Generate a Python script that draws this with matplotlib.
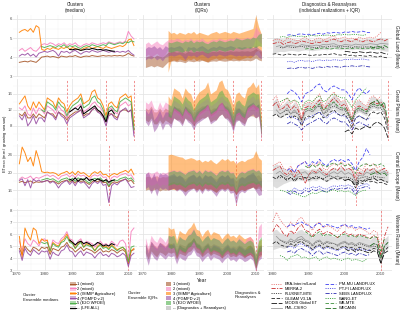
import numpy as np
import matplotlib
matplotlib.use("Agg")
import matplotlib.pyplot as plt
from matplotlib.patches import Patch
from matplotlib.lines import Line2D

plt.rcParams['font.family'] = ['Liberation Sans', 'DejaVu Sans']
plt.rcParams['lines.scale_dashes'] = False

# ---------------- categories / labels ----------------
cluster_labels = ['1 (mixed)', '2 (mixed)', '3 (ISIMIP Agriculture)', '4 (PGMFD v.2)', '5 (E2O WFDEI)']
cluster_colors = ['#A65628', '#F781BF', '#FF7F00', '#984EA3', '#4DAF4A']
region_names = ['Global Land (Mean)', 'Great Plains (Mean)', 'Central Europe (Mean)', 'Western Russia (Mean)']
drought_years = [[], [1988, 2002, 2012], [2003], [2010]]
med_start = [1971, 1971, 1971, 1971, 1979]
iqr_start = [1971, 1971, 1979, 1971, 1979]
lfe_start = 1989
band_start = 1980
product_names = ['ERA-Interim/Land', 'MERRA-2', 'FLUXNET-MTE', 'GLEAM V3.1A', 'MODIS Global ET', 'PML-CSIRO',
                 'PM-MU LANDFLUX', 'PT-FI LANDFLUX', 'SEBS LANDFLUX', 'WANG-ET', 'WB-MTE', 'WECANN']
product_start = [1980, 1980, 1982, 1980, 2000, 1981, 1984, 1984, 1984, 1982, 1989, 2007]

# ---------------- Global Land: medians ----------------
gl_c1 = [3.72,3.75,3.78,3.74,3.80,3.76,3.72,3.85, 4.00,4.02,4.05,4.00,4.03,4.00,3.95,4.05,4.02,4.00,
         4.05,4.03,4.08,4.02,3.98,4.03,4.05,4.03,4.08,4.05, 4.03,4.05,4.08,4.05,4.07,4.05,4.08,4.06,4.08,4.05,
         4.10,4.20,4.10,4.05]
gl_c2 = [4.35,4.45,4.30,4.40,4.50,4.35,4.30,4.45, 4.65,4.70,4.65,4.75,4.70,4.60,4.70,4.65,4.75,4.60,
         4.70,4.65,4.75,4.60,4.55,4.65,4.70,4.65,4.75,4.70, 4.65,4.70,4.75,4.70,4.80,4.75,4.70,4.75,4.80,4.75,
         4.85,5.35,5.10,4.95]
gl_c3 = [5.30,5.40,5.45,5.35,5.50,5.30,5.65,5.55, 4.40,4.35,4.45,4.40,4.50,4.45,4.40,4.50,4.45,4.55,
         4.40,4.50,4.45,4.40,4.35,4.45,4.50,4.55,4.45,4.50, 4.55,4.50,4.45,4.55,4.50,4.45,4.50,4.55,4.60,4.55,
         4.65,4.90,4.95,4.60]
gl_c4 = [4.05,4.15,4.10,4.20,4.05,4.15,4.00,4.20, 4.25,4.30,4.25,4.30,4.35,4.25,4.05,4.30,4.25,4.30,
         4.20,4.30,4.35,4.25,4.15,4.25,4.30,4.25,4.35,4.30, 4.25,4.30,4.35,4.30,4.25,4.30,4.25,4.30,4.25,4.30,
         4.25,4.35,4.20,4.10]
gl_c5 = [4.55,4.50,4.55,4.60,4.55,4.50,4.60,4.55,4.65,4.50, 4.60,4.55,4.60,4.50,4.45,4.55,4.60,4.55,4.65,4.60,
         4.55,4.60,4.65,4.60,4.75,4.70,4.65,4.70,4.75,4.70, 4.80,4.75,4.85,4.80]
gl_lfe = [4.40,4.38,4.42,4.40,4.35,4.38,4.42,4.40,4.45,4.42,4.38,4.40,4.36,4.38,4.35,4.32,4.30]

# ---------------- Great Plains: medians ----------------
gp_c1 = [11.0,10.5,11.5,10.0,10.0,11.0,10.0,11.0, 10.5,10.0,11.5,11.0,11.0,10.0,11.5,11.0,10.5,9.5,
         10.5,11.0,11.5,11.5,12.0,10.5,11.0,11.0,12.0,12.5, 11.5,11.5,10.5,9.0,11.0,11.0,10.5,10.0,11.5,12.0,
         12.0,11.5,12.0,7.0]
gp_c2 = [12.5,12.0,13.0,11.0,10.5,12.5,11.0,12.5, 12.0,11.0,13.0,12.5,12.0,11.0,13.0,12.0,11.5,10.0,
         11.5,12.0,12.5,13.0,13.5,11.5,12.0,12.5,13.5,14.0, 13.0,12.5,11.5,9.0,12.0,12.5,11.5,11.0,13.0,13.5,
         14.0,13.0,13.5,6.5]
gp_c3 = [13.5,14.5,15.5,13.0,12.0,14.0,12.5,14.0, 13.0,12.0,15.0,14.5,14.0,12.5,15.0,14.0,13.5,11.5,
         13.0,14.0,14.5,15.0,16.0,13.5,14.0,14.5,16.5,17.0, 15.0,14.5,13.0,10.5,13.5,14.0,13.0,12.5,15.0,15.5,
         16.0,15.0,15.5,8.0]
gp_c4 = [10.5,9.5,11.0,8.0,9.0,10.5,8.5,10.0, 10.0,9.0,11.5,11.0,10.5,9.5,11.5,10.5,10.0,8.5,
         10.0,10.5,11.0,11.5,12.0,10.0,10.5,11.0,12.0,12.5, 11.5,11.0,10.0,8.0,10.5,11.0,10.0,9.5,11.5,12.0,
         12.5,11.5,12.0,5.5]
gp_c5 = [12.0,11.5,14.0,13.5,13.0,12.0,14.0,13.0,12.5,10.5, 12.0,13.0,13.5,14.0,15.0,12.5,13.0,13.5,15.0,15.5,
         14.0,13.5,12.0,9.5,12.5,13.0,12.0,11.5,14.0,14.5, 15.0,14.5,14.0,7.0]
gp_lfe = [11.5,12.0,12.5,12.0,13.0,11.0,11.5,12.0,12.5,13.0,12.0,11.5,10.5,9.0,11.5,12.0,11.0]

# ---------------- Central Europe: medians ----------------
ce_c1 = [17.8,18.0,17.7,17.9,18.1,17.6,17.9,17.8, 17.9,18.0,18.2,17.9,18.1,17.8,17.4,17.9,18.1,18.3,
         17.8,18.2,17.6,18.3,18.0,18.1,17.7,17.3,17.9,18.2, 17.9,18.3,17.7,17.8,16.8,17.6,17.9,17.7,18.1,18.3,
         18.5,18.0,18.3,17.5]
ce_c2 = [18.5,19.0,18.6,18.8,19.2,18.4,18.9,18.7, 19.0,19.3,19.5,19.1,19.4,19.0,18.5,19.2,19.4,19.6,
         19.0,19.5,18.8,19.6,19.2,19.4,18.9,18.4,19.2,19.5, 19.2,19.6,18.9,19.0,17.5,18.8,19.2,18.9,19.4,19.6,
         19.8,19.3,19.5,18.5]
ce_c3 = [22.0,25.8,24.5,22.5,23.5,21.5,25.0,23.0, 20.2,20.0,20.1,19.9,20.0,19.8,19.3,19.8,20.0,20.3,
         19.7,20.2,19.5,20.3,19.8,20.0,19.5,19.0,19.8,20.2, 19.8,20.3,19.5,19.6,19.0,19.5,19.8,19.5,20.0,20.2,
         20.5,20.0,20.8,19.5]
ce_c4 = [18.2,18.6,17.0,18.4,16.5,18.5,18.0,18.3, 17.8,18.0,18.3,17.6,18.0,17.5,16.5,17.4,17.9,18.2,
         17.3,18.0,17.0,18.1,17.6,17.9,17.2,16.4,17.5,18.0, 17.5,18.1,17.1,17.3,13.2,17.0,17.6,17.2,17.9,18.2,
         18.6,17.6,16.6,16.8]
ce_c5 = [18.3,18.5,18.7,18.4,18.6,18.2,17.8,18.4,18.6,18.8, 18.2,18.7,18.0,18.8,18.4,18.6,18.1,17.6,18.4,18.7,
         18.4,18.8,18.1,18.2,17.0,18.0,18.4,18.1,18.6,18.8, 19.0,18.5,18.8,18.0]
ce_lfe = [18.5,18.2,18.8,18.0,18.6,18.3,18.9,18.2,18.5,18.1,18.6,18.3,18.0,18.4,17.8,18.2,18.3]

# ---------------- Western Russia: medians ----------------
wr_c1 = [4.8,4.3,5.0,4.7,4.5,4.9,4.8,4.6, 4.9,4.8,4.9,4.3,4.8,4.7,4.6,4.9,5.0,5.3,
         4.9,4.8,4.5,4.7,4.9,4.6,4.8,4.7,4.6,4.4, 4.6,4.8,4.5,4.6,4.5,4.7,4.6,4.4,4.6,4.7, 4.5,3.5,4.6,4.7]
wr_c2 = [5.4,4.6,5.6,5.2,5.0,5.5,5.3,5.0, 5.5,5.6,5.4,4.7,5.5,5.3,5.2,5.6,5.8,6.2,
         5.6,5.5,5.0,5.4,5.6,5.1,5.4,5.3,5.2,4.9, 5.2,5.4,5.1,5.2,5.0,5.4,5.2,5.0,5.4,5.5, 5.2,3.8,6.2,6.5]
wr_c3 = [5.8,4.0,6.5,5.9,5.5,6.5,6.3,5.2, 5.6,5.4,5.5,4.5,5.3,5.1,5.0,5.4,5.6,6.0,
         5.4,5.3,4.8,5.2,5.4,4.9,5.2,5.1,5.0,4.6, 5.0,5.2,4.9,5.0,4.8,5.1,4.9,4.7,4.8,4.9, 4.6,3.6,4.6,4.8]
wr_c4 = [4.6,3.8,4.8,4.4,4.2,4.7,4.5,4.3, 4.6,4.5,4.6,3.9,4.5,4.3,4.2,4.6,4.7,5.1,
         4.6,4.5,4.1,4.4,4.6,4.2,4.5,4.4,4.3,4.0, 4.3,4.5,4.2,4.3,4.1,4.4,4.3,4.1,4.2,4.4, 4.2,3.3,4.2,4.4]
wr_c5 = [5.3,5.2,5.3,4.6,5.2,5.0,4.9,5.3,5.4,5.8, 5.3,5.2,4.8,5.1,5.3,4.9,5.1,5.0,4.9,4.6,
         4.9,5.1,4.8,4.9,4.7,5.0,4.8,4.6,4.8,4.9, 4.7,3.7,4.9,5.0]
wr_lfe = [5.5,5.3,5.1,5.3,5.4,5.2,5.3,5.2,5.0,5.1,5.3,5.2,5.0,5.1,5.0,5.2,5.1]

# ---------------- IQRs: Global Land ----------------
gl_c1_lo = [3.45,3.5,3.55,3.48,3.55,3.5,3.45,3.6, 3.75,3.78,3.8,3.75,3.78,3.75,3.7,3.8,3.78,3.75,
            3.8,3.78,3.83,3.78,3.73,3.78,3.8,3.78,3.83,3.8, 3.78,3.8,3.83,3.8,3.82,3.8,3.83,3.81,3.83,3.8,
            3.85,3.95,3.85,3.8]
gl_c1_hi = [4.0,4.05,4.08,4.0,4.1,4.05,4.0,4.12, 4.25,4.27,4.3,4.25,4.28,4.25,4.2,4.3,4.27,4.25,
            4.3,4.28,4.33,4.27,4.23,4.28,4.3,4.28,4.33,4.3, 4.28,4.3,4.33,4.3,4.32,4.3,4.33,4.31,4.33,4.3,
            4.35,4.45,4.35,4.3]
gl_c2_lo = [4.05,4.15,4.0,4.1,4.2,4.05,4.0,4.15, 4.4,4.45,4.4,4.5,4.45,4.35,4.45,4.4,4.5,4.35,
            4.45,4.4,4.5,4.35,4.3,4.4,4.45,4.4,4.5,4.45, 4.4,4.45,4.5,4.45,4.55,4.5,4.45,4.5,4.55,4.5,
            4.6,5.0,4.85,4.7]
gl_c2_hi = [4.7,4.8,4.65,4.75,4.85,4.7,4.65,4.8, 4.9,4.95,4.9,5.0,4.95,4.85,4.95,4.9,5.0,4.85,
            4.95,4.9,5.0,4.85,4.8,4.9,4.95,4.9,5.0,4.95, 4.9,4.95,5.0,4.95,5.05,5.0,4.95,5.0,5.05,5.0,
            5.1,5.6,5.35,5.2]
gl_c3_lo = [3.2,3.8,3.85,3.8,3.9,3.85,3.8,3.9,3.85,3.95, 3.8,3.9,3.85,3.8,3.75,3.85,3.9,3.95,3.85,3.9,
            3.95,3.9,3.85,3.95,3.9,3.85,3.9,3.95,4.0,3.95, 4.05,4.3,4.35,4.0]
gl_c3_hi = [5.4,5.25,5.3,5.2,5.3,5.25,5.2,5.3,5.25,5.35, 5.2,5.3,5.25,5.2,5.15,5.25,5.3,5.35,5.25,5.3,
            5.35,5.3,5.25,5.35,5.3,5.25,5.3,5.35,5.4,5.45, 5.5,6.2,5.6,5.2]
gl_c4_lo = [3.85,3.95,3.9,4.0,3.85,3.95,3.8,4.0, 4.05,4.1,4.05,4.1,4.15,4.05,3.85,4.1,4.05,4.1,
            4.0,4.1,4.15,4.05,3.95,4.05,4.1,4.05,4.15,4.1, 4.05,4.1,4.15,4.1,4.05,4.1,4.05,4.1,4.05,4.1,
            4.05,4.15,4.0,3.9]
gl_c4_hi = [4.45,4.55,4.5,4.6,4.45,4.55,4.4,4.6, 4.5,4.55,4.5,4.55,4.6,4.5,4.3,4.55,4.5,4.55,
            4.45,4.55,4.6,4.5,4.4,4.5,4.55,4.5,4.6,4.55, 4.5,4.55,4.6,4.55,4.5,4.55,4.5,4.55,4.5,4.55,
            4.5,4.6,4.45,4.35]
gl_c5_lo = [4.3,4.25,4.3,4.35,4.3,4.25,4.35,4.3,4.4,4.25, 4.35,4.3,4.35,4.25,4.2,4.3,4.35,4.3,4.4,4.35,
            4.3,4.35,4.4,4.35,4.5,4.45,4.4,4.45,4.5,4.45, 4.55,4.5,4.6,4.55]
gl_c5_hi = [4.8,4.75,4.8,4.85,4.8,4.75,4.85,4.8,4.9,4.75, 4.85,4.8,4.85,4.75,4.7,4.8,4.85,4.8,4.9,4.85,
            4.8,4.85,4.9,4.85,5.0,4.95,4.9,4.95,5.0,4.95, 5.05,5.0,5.2,5.25]

# ---------------- IQRs: Great Plains ----------------
gp_c1_lo = [9.5,9.0,10.0,8.5,8.5,9.5,8.5,9.5, 9.0,8.5,10.0,9.5,9.5,8.5,10.0,9.5,9.0,8.0,
            9.0,9.5,10.0,10.0,10.5,9.0,9.5,9.5,10.5,11.0, 10.0,10.0,9.0,7.5,9.5,9.5,9.0,8.5,10.0,10.5,
            10.5,10.0,10.5,6.0]
gp_c1_hi = [12.5,12.0,13.0,11.5,11.5,12.5,11.5,12.5, 12.0,11.5,13.0,12.5,12.5,11.5,13.0,12.5,12.0,11.0,
            12.0,12.5,13.0,13.0,13.5,12.0,12.5,12.5,13.5,14.0, 13.0,13.0,12.0,10.5,12.5,12.5,12.0,11.5,13.0,13.5,
            13.5,13.0,13.5,8.0]
gp_c2_lo = [11.0,10.5,11.5,9.5,9.0,11.0,9.5,11.0, 10.5,9.5,11.5,11.0,10.5,9.5,11.5,10.5,10.0,8.5,
            10.0,10.5,11.0,11.5,12.0,10.0,10.5,11.0,12.0,12.5, 11.5,11.0,10.0,7.5,10.5,11.0,10.0,9.5,11.5,12.0,
            12.5,11.5,12.0,5.0]
gp_c2_hi = [14.0,13.5,14.5,12.5,12.0,14.0,12.5,14.0, 13.5,12.5,14.5,14.0,13.5,12.5,14.5,13.5,13.0,11.5,
            13.0,13.5,14.0,14.5,15.0,13.0,13.5,14.0,15.0,15.5, 14.5,14.0,13.0,10.5,13.5,14.0,13.0,12.5,14.5,15.0,
            15.5,14.5,15.0,8.0]
gp_c3_lo = [10.5,9.5,12.0,11.5,11.0,10.0,12.0,11.0,10.5,8.5, 10.0,11.0,11.5,12.0,13.0,10.5,11.0,11.5,13.0,13.5,
            12.0,11.5,10.0,7.5,10.5,11.0,10.0,9.5,12.0,12.5, 13.0,12.0,12.5,5.5]
gp_c3_hi = [15.5,14.5,17.5,17.0,16.5,15.0,17.5,16.5,16.0,14.0, 15.5,16.5,17.0,17.5,19.0,16.0,16.5,17.0,19.0,19.5,
            17.5,17.0,15.5,13.0,16.0,16.5,15.5,15.0,17.5,18.0, 19.0,17.5,18.5,10.0]
gp_c4_lo = [9.0,8.0,9.5,6.5,7.5,9.0,7.0,8.5, 8.5,7.5,10.0,9.5,9.0,8.0,10.0,9.0,8.5,7.0,
            8.5,9.0,9.5,10.0,10.5,8.5,9.0,9.5,10.5,11.0, 10.0,9.5,8.5,6.5,9.0,9.5,8.5,8.0,10.0,10.5,
            11.0,10.0,10.5,4.5]
gp_c4_hi = [12.0,11.0,12.5,9.5,10.5,12.0,10.0,11.5, 11.5,10.5,13.0,12.5,12.0,11.0,13.0,12.0,11.5,10.0,
            11.5,12.0,12.5,13.0,13.5,11.5,12.0,12.5,13.5,14.0, 13.0,12.5,11.5,9.5,12.0,12.5,11.5,11.0,13.0,13.5,
            14.0,13.0,13.5,7.0]
gp_c5_lo = [10.5,10.0,12.5,12.0,11.5,10.5,12.5,11.5,11.0,9.0, 10.5,11.5,12.0,12.5,13.5,11.0,11.5,12.0,13.5,14.0,
            12.5,12.0,10.5,8.0,11.0,11.5,10.5,10.0,12.5,13.0, 13.5,13.0,12.5,5.5]
gp_c5_hi = [13.5,13.0,15.5,15.0,14.5,13.5,15.5,14.5,14.0,12.0, 13.5,14.5,15.0,15.5,16.5,14.0,14.5,15.0,16.5,17.0,
            15.5,15.0,13.5,11.0,14.0,14.5,13.5,13.0,15.5,16.0, 16.5,16.0,16.0,8.5]

# ---------------- IQRs: Central Europe ----------------
ce_c1_lo = [16.0,16.2,15.9,16.1,16.3,15.8,16.1,16.0, 16.1,16.2,16.4,16.1,16.3,16.0,15.6,16.1,16.3,16.5,
            16.0,16.4,15.8,16.5,16.2,16.3,15.9,15.5,16.1,16.4, 16.1,16.5,15.9,16.0,15.0,15.8,16.1,15.9,16.3,16.5,
            16.7,16.2,16.5,15.7]
ce_c1_hi = [19.0,19.2,18.9,19.1,19.3,18.8,19.1,19.0, 19.1,19.2,19.4,19.1,19.3,19.0,18.6,19.1,19.3,19.5,
            19.0,19.4,18.8,19.5,19.2,19.3,18.9,18.5,19.1,19.4, 19.1,19.5,18.9,19.0,18.0,18.8,19.1,18.9,19.3,19.5,
            19.7,19.2,19.5,18.7]
ce_c2_lo = [17.0,17.5,17.1,17.3,17.7,16.9,17.4,17.2, 17.5,17.8,18.0,17.6,17.9,17.5,17.0,17.7,17.9,18.1,
            17.5,18.0,17.3,18.1,17.7,17.9,17.4,16.9,17.7,18.0, 17.7,18.1,17.4,17.5,15.5,17.3,17.7,17.4,17.9,18.1,
            18.3,17.8,18.0,17.0]
ce_c2_hi = [19.7,20.2,19.8,20.0,20.4,19.6,20.1,19.9, 20.2,20.5,20.7,20.3,20.6,20.2,19.7,20.4,20.6,20.8,
            20.2,20.7,20.0,20.8,20.4,20.6,20.1,19.6,20.4,20.7, 20.4,20.8,20.1,20.2,18.7,20.0,20.4,20.1,20.6,20.8,
            21.0,20.5,20.7,19.7]
ce_c3_lo = [16.0,16.3,16.2,16.0,16.4,16.2,15.8,16.2,16.4,16.6, 16.0,16.4,15.9,16.6,16.2,16.3,15.9,15.5,16.2,16.5,
            16.2,16.6,15.9,16.0,15.0,15.9,16.2,15.9,16.3,16.5, 16.8,16.3,17.0,16.5]
ce_c3_hi = [24.0,24.2,24.0,23.8,23.6,23.5,23.0,23.2,23.4,23.2, 22.8,23.0,22.4,22.8,22.5,23.0,22.4,22.0,22.6,23.2,
            22.8,23.2,22.6,22.8,22.0,22.5,22.8,22.5,23.0,23.2, 23.5,25.0,23.4,22.8]
ce_c4_lo = [16.4,16.8,15.2,16.6,14.7,16.7,16.2,16.5, 16.0,16.2,16.5,15.8,16.2,15.7,14.7,15.6,16.1,16.4,
            15.5,16.2,15.2,16.3,15.8,16.1,15.4,14.6,15.7,16.2, 15.7,16.3,15.3,15.5,12.6,15.2,15.8,15.4,16.1,16.4,
            16.8,15.8,14.8,15.0]
ce_c4_hi = [19.7,20.1,18.5,19.9,18.0,20.0,19.5,19.8, 19.3,19.5,19.8,19.1,19.5,19.0,18.0,18.9,19.4,19.7,
            18.8,19.5,18.5,19.6,19.1,19.4,18.7,17.9,19.0,19.5, 19.0,19.6,18.6,18.8,15.5,18.5,19.1,18.7,19.4,19.7,
            20.1,19.1,18.1,18.3]
ce_c5_lo = [17.1,17.3,17.5,17.2,17.4,17.0,16.6,17.2,17.4,17.6, 17.0,17.5,16.8,17.6,17.2,17.4,16.9,16.4,17.2,17.5,
            17.2,17.6,16.9,17.0,15.5,16.8,17.2,16.9,17.4,17.6, 17.8,17.3,17.6,16.8]
ce_c5_hi = [20.1,20.3,20.5,20.2,20.4,20.0,19.6,20.2,20.4,20.6, 20.0,20.5,19.8,20.6,20.2,20.4,19.9,19.4,20.2,20.5,
            20.2,20.6,19.9,20.0,18.8,19.8,20.2,19.9,20.4,20.6, 20.8,20.3,20.6,19.8]

# ---------------- IQRs: Western Russia ----------------
wr_c1_lo = [4.4,3.9,4.6,4.3,4.1,4.5,4.4,4.2, 4.5,4.4,4.5,3.9,4.4,4.3,4.2,4.5,4.6,4.9,
            4.5,4.4,4.1,4.3,4.5,4.2,4.4,4.3,4.2,4.0, 4.2,4.4,4.1,4.2,4.1,4.3,4.2,4.0,4.2,4.3, 4.1,3.1,4.2,4.3]
wr_c1_hi = [5.2,4.7,5.4,5.1,4.9,5.3,5.2,5.0, 5.3,5.2,5.3,4.7,5.2,5.1,5.0,5.3,5.4,5.7,
            5.3,5.2,4.9,5.1,5.3,5.0,5.2,5.1,5.0,4.8, 5.0,5.2,4.9,5.0,4.9,5.1,5.0,4.8,5.0,5.1, 4.9,3.9,5.0,5.1]
wr_c2_lo = [5.0,4.2,5.2,4.8,4.6,5.1,4.9,4.6, 5.1,5.2,5.0,4.3,5.1,4.9,4.8,5.2,5.4,5.8,
            5.2,5.1,4.6,5.0,5.2,4.7,5.0,4.9,4.8,4.5, 4.8,5.0,4.7,4.8,4.6,5.0,4.8,4.6,5.0,5.1, 4.8,3.4,5.6,5.8]
wr_c2_hi = [5.7,4.9,5.9,5.5,5.3,5.8,5.6,5.3, 5.8,5.9,5.7,5.0,5.8,5.6,5.5,5.9,6.1,6.5,
            5.9,5.8,5.3,5.7,5.9,5.4,5.7,5.6,5.5,5.2, 5.5,5.7,5.4,5.5,5.3,5.7,5.5,5.3,5.7,5.8, 5.5,4.1,6.6,6.9]
wr_c3_lo = [5.0,4.8,4.9,4.0,4.7,4.5,4.4,4.8,5.0,5.4, 4.8,4.7,4.2,4.6,4.8,4.3,4.6,4.5,4.4,4.0,
            4.4,4.6,4.3,4.4,4.2,4.5,4.3,4.1,4.2,4.3, 4.0,3.1,4.0,4.2]
wr_c3_hi = [6.6,6.4,6.5,5.5,6.3,6.1,6.0,6.4,6.6,7.0, 6.4,6.3,5.8,6.2,6.4,5.9,6.2,6.1,6.0,5.6,
            5.9,6.1,5.8,5.9,5.7,6.0,5.8,5.6,5.7,5.8, 5.5,4.2,5.4,5.6]
wr_c4_lo = [4.2,3.4,4.4,4.0,3.8,4.3,4.1,3.9, 4.2,4.1,4.2,3.5,4.1,3.9,3.8,4.2,4.3,4.7,
            4.2,4.1,3.7,4.0,4.2,3.8,4.1,4.0,3.9,3.6, 3.9,4.1,3.8,3.9,3.7,4.0,3.9,3.7,3.8,4.0, 3.8,2.9,3.8,4.0]
wr_c4_hi = [5.2,4.4,5.4,5.0,4.8,5.3,5.1,4.9, 5.2,5.1,5.2,4.5,5.1,4.9,4.8,5.2,5.3,5.7,
            5.2,5.1,4.7,5.0,5.2,4.8,5.1,5.0,4.9,4.6, 4.9,5.1,4.8,4.9,4.7,5.0,4.9,4.7,4.8,5.0, 4.8,3.9,4.8,5.0]
wr_c5_lo = [4.9,4.8,4.9,4.2,4.8,4.6,4.5,4.9,5.0,5.4, 4.9,4.8,4.4,4.7,4.9,4.5,4.7,4.6,4.5,4.2,
            4.5,4.7,4.4,4.5,4.3,4.6,4.4,4.2,4.4,4.5, 4.3,3.3,4.5,4.6]
wr_c5_hi = [5.9,5.8,5.9,5.2,5.8,5.6,5.5,5.9,6.0,6.4, 5.9,5.8,5.4,5.7,5.9,5.5,5.7,5.6,5.5,5.2,
            5.5,5.7,5.4,5.5,5.3,5.6,5.4,5.2,5.4,5.5, 5.3,4.3,5.5,5.8]

# ---------------- Diagnostics & reanalyses: Global Land ----------------
gl_era = [4.85,4.95,4.90,4.80,5.00,4.95,4.90,4.85,4.95,5.05,4.90,4.85,4.95,5.00,4.90,4.95,5.05,5.10,4.95,5.00,
          5.05,4.95,5.00,4.90,5.05,4.95,5.00,5.05,5.00,5.10,5.30]
gl_merra = [4.70,4.75,4.80,4.65,4.75,4.80,4.70,4.75,4.85,4.80,4.75,4.70,4.80,4.75,4.85,4.80,4.90,4.95,4.85,4.80,
            4.90,4.85,4.80,4.95,4.85,4.80,4.90,4.85,4.80,4.90,4.95,4.85,4.95]
gl_mte = [4.50,4.48,4.55,4.52,4.50,4.54,4.56,4.52,4.55,4.50,4.48,4.53,4.55,4.52,4.57,4.58,4.54,4.53,4.56,4.55,
          4.50,4.55,4.53,4.52,4.54,4.52,4.50,4.53,4.51,4.50]
gl_gleam = [4.15,4.18,4.12,4.10,4.16,4.14,4.12,4.10,4.15,4.13,4.10,4.08,4.12,4.10,4.14,4.12,4.15,4.18,4.12,4.10,
            4.14,4.08,4.10,4.05,4.08,4.06,4.04,4.08,4.02,4.00,4.05,3.98,3.95]
gl_modis = [4.30,4.28,4.25,4.22,4.28,4.25,4.22,4.26,4.24,4.20,4.25,4.18,4.15]
gl_pml = [4.55,4.60,4.50,4.62,4.60,4.58,4.55,4.65,4.62,4.60,4.58,4.63,4.60,4.66,4.64,4.68,4.70,4.62,4.60,4.66,
          4.64,4.62,4.68,4.65,4.63,4.66,4.70,4.68,4.65,4.72,4.70,4.68]
gl_pmmu = [5.15,5.18,5.12,5.20,5.22,5.18,5.20,5.15,5.22,5.25,5.20,5.28,5.25,5.30,5.28,5.25,5.32,5.30,5.35,5.30,
           5.32,5.36,5.30,5.28]
gl_ptfi = [3.75,3.78,3.72,3.80,3.82,3.78,3.80,3.76,3.82,3.85,3.80,3.84,3.82,3.86,3.84,3.82,3.88,3.86,3.90,3.86,
           3.88,3.90,3.86,3.84]
gl_sebs = [3.40,3.42,3.38,3.44,3.46,3.42,3.45,3.40,3.46,3.48,3.44,3.50,3.47,3.50,3.48,3.46,3.52,3.50,3.54,3.50,
           3.52,3.55,3.50,3.48]
gl_wang = [5.05,5.08,5.02,5.10,5.12,5.08,5.10,5.06,5.12,5.15,5.10,5.14,5.12,5.16,5.14,5.12,5.18,5.16,5.20,5.16,
           5.18,5.20,5.16,5.14,5.18]
gl_wbmte = [4.42,4.45,4.40,4.46,4.44,4.48,4.46,4.42,4.45,4.48,4.46,4.44,4.47,4.45,4.48,4.46,4.44,4.47,4.45,4.43,
            4.46,4.44,4.42]
gl_wecann = [4.55,4.50,4.58,4.52,4.60,4.50]
gl_band_lo = [4.20,4.25,4.30,4.28,4.32,4.35,4.33,4.30,4.35,4.38,4.36,4.33,4.36,4.38,4.40,4.38,4.42,4.44,4.40,4.38,
              4.42,4.40,4.38,4.42,4.40,4.38,4.40,4.42,4.38,4.40,4.36,4.32,4.30]
gl_band_hi = [5.00,5.02,4.98,4.95,4.98,4.96,4.94,4.92,4.95,4.98,4.94,4.92,4.95,4.96,4.94,4.95,4.98,5.00,4.96,4.95,
              4.98,4.95,4.94,4.96,4.95,4.93,4.96,4.98,4.95,4.97,5.05,4.95,4.98]

# ---------------- Diagnostics & reanalyses: Great Plains ----------------
gp_era = [14.5,15.5,13.0,14.0,15.0,13.5,14.5,13.0,10.0,13.5,14.0,13.5,15.0,16.0,13.0,14.0,15.5,16.5,15.0,14.0,
          14.5,12.5,10.0,14.0,14.5,13.5,13.0,15.0,15.5,14.5,15.5]
gp_merra = [13.0,14.0,12.0,12.5,13.5,12.0,13.0,12.0,9.5,12.5,13.0,12.5,13.5,14.5,12.0,13.0,14.0,15.0,14.0,13.0,
            13.5,11.5,9.0,12.5,13.0,12.5,12.0,13.5,14.0,13.5,14.0,12.5,7.5]
gp_mte = [11.0,11.5,12.0,11.0,11.5,11.0,9.5,11.5,12.0,11.5,12.5,13.0,11.0,11.5,12.5,13.0,12.5,12.0,12.0,10.5,
          9.0,11.5,12.0,11.5,11.0,12.5,13.0,12.5,12.5,11.0]
gp_gleam = [10.5,11.0,10.0,10.5,11.0,10.0,10.5,10.0,8.0,10.0,10.5,10.0,11.0,11.5,10.0,10.5,11.5,12.0,11.0,10.5,
            11.0,9.5,7.5,10.0,10.5,10.0,9.5,11.0,11.5,11.0,11.5,10.0,6.5]
gp_modis = [6.5,7.0,6.0,7.5,7.0,7.5,8.0,7.5,8.5,9.0,8.5,7.5,5.0]
gp_pml = [12.0,11.0,11.5,12.5,11.0,12.0,11.0,9.0,11.5,12.0,11.5,12.5,13.5,11.0,12.0,13.0,14.0,12.5,12.0,12.5,
          11.0,9.5,12.0,12.5,12.0,11.5,13.0,13.5,13.0,13.5,12.0,7.0]
gp_pmmu = [16.0,17.0,16.5,15.5,14.0,16.0,16.5,17.0,18.0,18.5,17.0,16.5,17.5,18.0,17.5,17.0,17.0,16.0,14.5,16.5,
           17.5,16.5,16.0,17.0]
gp_ptfi = [10.0,10.5,10.0,9.5,8.5,9.5,10.0,10.5,11.0,11.5,10.5,10.0,11.0,11.5,11.0,10.5,10.5,9.5,8.5,10.0,
           10.5,10.0,9.5,10.0]
gp_sebs = [8.5,9.0,8.5,8.0,7.0,8.0,8.5,9.0,9.5,10.0,9.0,8.5,9.5,10.0,9.5,9.0,9.0,8.0,7.0,8.5,9.0,8.5,8.0,8.5]
gp_wang = [14.0,14.5,15.0,14.0,14.5,14.0,12.0,14.0,14.5,14.0,15.0,15.5,14.0,14.5,15.5,16.0,15.5,15.0,15.0,14.0,
           12.5,14.5,15.5,16.5,17.5]
gp_wbmte = [12.0,12.5,12.0,13.0,13.5,12.0,12.5,13.5,14.0,13.0,12.5,12.5,11.0,9.5,12.0,12.5,12.0,11.5,13.0,13.5,
            13.0,13.5,12.0]
gp_wecann = [13.5,14.0,14.5,13.0,14.0,8.5]
gp_band_lo = [10.5,11.0,10.0,10.5,11.0,10.0,10.5,10.0,8.5,10.5,11.0,10.5,11.5,12.0,10.5,11.0,12.0,12.5,11.5,11.0,
              11.5,10.0,8.5,11.0,11.5,11.0,10.5,12.0,12.5,12.0,12.5,11.0,7.0]
gp_band_hi = [14.0,15.0,13.0,13.5,14.5,13.0,14.0,13.0,10.0,13.5,14.0,13.5,14.5,15.0,13.0,14.0,15.0,16.0,15.0,14.0,
              14.5,12.5,10.0,14.0,14.5,13.5,13.0,15.0,15.5,14.5,15.0,13.0,8.0]

# ---------------- Diagnostics & reanalyses: Central Europe ----------------
ce_era = [21.5,22.0,22.5,21.0,20.5,21.5,20.0,21.5,22.0,22.5,21.0,22.0,21.5,22.5,21.0,20.5,21.5,22.0,21.5,22.5,
          21.5,22.0,21.0,19.0,21.0,20.5,22.0,21.5,22.0,21.0,21.5]
ce_merra = [20.5,21.0,21.5,20.0,19.5,20.5,19.0,20.5,19.5,17.5,19.5,20.5,20.0,21.0,20.0,19.5,20.5,21.0,20.5,21.5,
            20.5,21.0,20.5,18.0,20.0,19.5,21.0,20.5,21.0,20.0,20.5,21.0,20.0]
ce_mte = [18.8,19.0,18.5,18.9,18.4,19.0,19.2,18.7,19.1,18.6,19.2,18.8,18.6,19.0,19.3,18.9,19.2,18.8,19.0,18.9,
          18.6,17.5,18.7,18.9,19.1,18.8,19.2,19.0,18.9,18.8]
ce_gleam = [19.0,18.5,19.5,18.8,18.2,19.0,18.0,18.8,18.5,18.9,18.3,18.9,18.5,19.0,18.4,18.0,18.6,18.9,18.4,18.8,
            18.2,18.5,18.0,16.5,17.8,17.5,18.2,17.9,18.0,17.6,17.8,17.5,17.2]
ce_modis = [18.2,18.5,18.0,17.0,18.3,18.0,18.6,18.4,18.8,18.2,18.5,18.0,17.8]
ce_pml = [19.8,20.3,19.5,19.0,19.8,18.8,19.6,19.9,20.2,19.4,20.0,19.7,20.3,19.5,19.1,19.8,20.2,19.7,20.4,19.6,
          20.0,19.5,18.0,19.4,19.2,20.1,19.8,20.2,19.6,19.9,20.3,19.5]
ce_pmmu = [20.5,21.0,20.0,21.5,22.0,22.5,21.5,22.5,22.0,23.0,22.0,21.5,22.5,23.0,22.5,23.0,22.5,23.0,22.0,20.5,
           22.5,23.5,25.5,24.0]
ce_ptfi = [16.0,15.5,16.5,16.0,15.8,16.5,16.2,16.8,16.5,16.9,16.4,16.2,16.7,17.0,16.8,17.1,16.9,17.2,16.8,15.8,
           16.9,17.2,17.5,17.0]
ce_sebs = [15.5,15.0,15.8,15.3,15.2,15.9,15.6,16.2,15.9,16.3,15.8,15.6,16.1,16.4,16.2,16.5,16.3,16.6,16.2,15.0,
           16.3,16.6,16.9,16.4]
ce_wang = [16.0,15.8,15.5,15.9,15.2,15.0,14.6,14.5,15.0,15.4,15.2,15.6,15.8,15.5,15.9,16.1,15.7,15.9,15.6,15.8,
           15.4,14.8,15.6,15.9,16.0]
ce_wbmte = [21.5,21.0,21.8,21.2,22.0,21.6,21.3,21.9,22.2,21.7,22.1,21.5,21.9,21.4,19.8,21.3,21.8,22.0,21.5,21.9,
            21.6,22.0,21.4]
ce_wecann = [19.5,19.8,20.2,19.6,19.9,19.0]
ce_band_lo = [17.0,16.5,17.0,17.5,17.8,18.2,18.0,18.4,18.2,18.3,18.0,18.4,18.2,18.6,18.3,18.0,18.4,18.7,18.3,18.6,
              18.2,18.4,18.0,17.0,18.1,18.0,18.4,18.2,18.5,18.1,18.3,18.0,17.8]
ce_band_hi = [21.5,22.0,21.5,21.0,20.5,21.0,20.3,20.8,21.0,20.8,20.5,21.0,20.8,21.3,20.7,20.3,20.9,21.2,20.8,21.4,
              20.8,21.2,20.6,19.5,20.6,20.4,21.0,20.8,21.2,20.7,21.0,20.8,20.5]

# ---------------- Diagnostics & reanalyses: Western Russia ----------------
wr_era = [7.0,7.8,7.2,6.8,6.5,7.0,6.6,7.2,7.4,6.9,6.8,6.3,6.8,7.0,6.5,6.7,6.6,6.4,6.2,6.6,
          6.8,6.5,6.6,6.3,6.5,6.4,6.2,6.0,6.3,6.1,4.8]
wr_merra = [6.2,6.8,6.5,6.0,5.8,6.3,6.0,6.5,6.8,6.3,6.2,5.8,6.2,6.4,6.0,6.2,6.1,5.9,5.7,6.0,
            6.2,5.9,6.0,5.8,6.0,5.9,5.8,5.6,5.9,5.7,4.2,5.8,6.6]
wr_mte = [5.5,5.3,5.2,5.4,5.3,5.5,5.6,5.4,5.3,5.0,5.3,5.4,5.1,5.3,5.2,5.2,5.0,5.2,5.3,5.1,
          5.2,5.0,5.2,5.1,5.0,4.9,5.0,4.9,4.0,4.8]
wr_gleam = [5.2,5.4,5.1,5.0,4.9,5.2,5.0,5.3,5.4,5.1,5.0,4.7,5.0,5.1,4.8,5.0,4.9,4.8,4.7,4.9,
            5.0,4.8,4.9,4.7,4.9,4.8,4.7,4.6,4.8,4.7,3.5,4.6,4.9]
wr_modis = [4.8,4.6,4.7,4.5,4.7,4.6,4.5,4.4,4.6,4.5,3.6,4.4,4.6]
wr_pml = [5.8,5.5,5.4,5.3,5.6,5.4,5.7,5.8,5.5,5.4,5.1,5.4,5.5,5.2,5.4,5.3,5.2,5.1,5.3,5.4,
          5.2,5.3,5.1,5.3,5.2,5.1,5.0,5.2,5.1,4.0,5.0,5.3]
wr_pmmu = [6.6,6.8,6.7,6.9,7.0,6.8,6.7,6.5,6.8,6.9,6.6,6.8,6.7,6.6,6.5,6.7,6.8,6.6,6.7,6.5,6.6,6.5,6.4,6.5]
wr_ptfi = [4.9,5.0,4.8,5.1,5.2,5.0,4.9,4.6,4.9,5.0,4.7,4.9,4.8,4.7,4.6,4.8,4.9,4.7,4.8,4.6,4.8,4.7,4.6,4.7]
wr_sebs = [4.5,4.6,4.4,4.7,4.8,4.6,4.5,4.2,4.5,4.6,4.3,4.5,4.4,4.3,4.2,4.4,4.5,4.3,4.4,4.2,4.4,4.3,4.2,4.3]
wr_wang = [4.2,4.1,3.8,4.1,4.2,4.3,4.0,4.1,3.9,4.0,4.1,3.8,4.0,4.1,3.9,4.0,3.9,3.8,3.9,4.0,3.8,3.9,3.8,3.7,3.9]
wr_wbmte = [6.2,6.0,5.7,6.0,6.2,5.8,6.0,5.9,5.9,5.7,5.9,6.0,5.8,5.9,5.7,5.9,5.8,5.7,5.6,5.8,5.7,4.6,5.6]
wr_wecann = [5.0,5.2,5.1,4.0,5.0,5.3]
wr_band_lo = [4.7,4.8,4.9,4.8,4.9,5.1,4.9,5.2,5.3,5.0,4.9,4.7,4.9,5.0,4.8,4.9,4.8,4.8,4.7,4.9,
              5.0,4.8,4.9,4.7,4.9,4.8,4.7,4.6,4.8,4.7,3.6,4.6,4.8]
wr_band_hi = [6.3,6.4,6.1,6.0,5.9,6.2,6.0,6.3,6.4,6.1,6.0,5.7,6.0,6.1,5.8,6.0,5.9,5.8,5.7,5.9,
              6.0,5.8,5.9,5.7,5.9,5.8,5.7,5.5,5.8,5.6,4.4,5.6,5.9]

# ---------------- assemble tables ----------------
regions = [
    dict(med=[gl_c1, gl_c2, gl_c3, gl_c4, gl_c5], lfe=gl_lfe,
         lo=[gl_c1_lo, gl_c2_lo, gl_c3_lo, gl_c4_lo, gl_c5_lo], hi=[gl_c1_hi, gl_c2_hi, gl_c3_hi, gl_c4_hi, gl_c5_hi],
         prod=[gl_era, gl_merra, gl_mte, gl_gleam, gl_modis, gl_pml, gl_pmmu, gl_ptfi, gl_sebs, gl_wang, gl_wbmte, gl_wecann],
         band=(gl_band_lo, gl_band_hi)),
    dict(med=[gp_c1, gp_c2, gp_c3, gp_c4, gp_c5], lfe=gp_lfe,
         lo=[gp_c1_lo, gp_c2_lo, gp_c3_lo, gp_c4_lo, gp_c5_lo], hi=[gp_c1_hi, gp_c2_hi, gp_c3_hi, gp_c4_hi, gp_c5_hi],
         prod=[gp_era, gp_merra, gp_mte, gp_gleam, gp_modis, gp_pml, gp_pmmu, gp_ptfi, gp_sebs, gp_wang, gp_wbmte, gp_wecann],
         band=(gp_band_lo, gp_band_hi)),
    dict(med=[ce_c1, ce_c2, ce_c3, ce_c4, ce_c5], lfe=ce_lfe,
         lo=[ce_c1_lo, ce_c2_lo, ce_c3_lo, ce_c4_lo, ce_c5_lo], hi=[ce_c1_hi, ce_c2_hi, ce_c3_hi, ce_c4_hi, ce_c5_hi],
         prod=[ce_era, ce_merra, ce_mte, ce_gleam, ce_modis, ce_pml, ce_pmmu, ce_ptfi, ce_sebs, ce_wang, ce_wbmte, ce_wecann],
         band=(ce_band_lo, ce_band_hi)),
    dict(med=[wr_c1, wr_c2, wr_c3, wr_c4, wr_c5], lfe=wr_lfe,
         lo=[wr_c1_lo, wr_c2_lo, wr_c3_lo, wr_c4_lo, wr_c5_lo], hi=[wr_c1_hi, wr_c2_hi, wr_c3_hi, wr_c4_hi, wr_c5_hi],
         prod=[wr_era, wr_merra, wr_mte, wr_gleam, wr_modis, wr_pml, wr_pmmu, wr_ptfi, wr_sebs, wr_wang, wr_wbmte, wr_wecann],
         band=(wr_band_lo, wr_band_hi)),
]

# product styles (colour, dash pattern in points)
product_styles = [
    ('#E8706E', (0, (0.8, 0.8))),
    ('#C8282A', (0, (3, 1, 0.8, 1))),
    ('#333333', (0, (0.8, 0.8))),
    ('#222222', (0, (2.5, 1.2))),
    ('#111111', (0, (4, 1.2))),
    ('#9A9A9A', '-'),
    ('#3A3AF0', (0, (2.5, 1.2))),
    ('#4848E0', (0, (0.8, 0.8))),
    ('#2A2AB0', (0, (3, 1, 0.8, 1))),
    ('#2E9A2E', (0, (0.8, 0.8))),
    ('#3A8F3A', (0, (2.5, 1.2))),
    ('#1F6F1F', (0, (4, 1.2))),
]

# ---------------- layout ----------------
W, H = 402, 313
fig = plt.figure(figsize=(W / 100, H / 100), dpi=100)

col_px = [(13.5, 137), (139.5, 264.5), (267, 392)]
row_px = [(15, 77), (79.5, 141.5), (144, 206), (208.5, 270.5)]
xlims = [(1968.9, 2013.1), (1968.9, 2013.1), (1978.4, 2013.1)]
xticks = [[1970, 1980, 1990, 2000, 2010]] * 2 + [[1980, 1990, 2000, 2010]]
xminor = [[1975, 1985, 1995, 2005]] * 2 + [[1985, 1995, 2005]]
ylims = [(2.95, 6.21), (4.1, 19.6), (12.4, 26.5), (2.96, 8.125)]
yticks = [[3, 4, 5, 6], [8, 12, 16], [16, 20, 24], [3, 4, 5, 6, 7, 8]]
yminor = [[3.5, 4.5, 5.5], [6, 10, 14, 18], [14, 18, 22, 26], [3.5, 4.5, 5.5, 6.5, 7.5]]

TXT = '#4D4D4D'


def add_ax(c, r):
    x0, x1 = col_px[c]
    y0, y1 = row_px[r]
    return fig.add_axes([x0 / W, 1 - y1 / H, (x1 - x0) / W, (y1 - y0) / H])


def style_axis(ax, c, r):
    ax.set_xlim(xlims[c])
    ax.set_ylim(ylims[r])
    for s in ax.spines.values():
        s.set_visible(False)
    ax.set_xticks(xticks[c])
    ax.set_xticks(xminor[c], minor=True)
    ax.set_yticks(yticks[r])
    ax.set_yticks(yminor[r], minor=True)
    ax.grid(which='major', color='#E4E4E4', lw=0.55)
    ax.grid(which='minor', color='#F1F1F1', lw=0.3)
    ax.set_axisbelow(True)
    ax.tick_params(which='both', length=0, labelsize=3.1, labelcolor=TXT, pad=0.8)
    if c != 0:
        ax.set_yticklabels([])
    if r != 3:
        ax.set_xticklabels([])


def xr(start, vals):
    return np.arange(start, start + len(vals))


for r, reg in enumerate(regions):
    axs = [add_ax(c, r) for c in range(3)]
    for c, ax in enumerate(axs):
        style_axis(ax, c, r)
        for yr in drought_years[r]:
            ax.axvline(yr, color='#F08080', lw=0.6, ls=(0, (1.6, 1.2)), zorder=1.5)
    a1, a2, a3 = axs
    # medians
    for i in range(5):
        v = reg['med'][i]
        a1.plot(xr(med_start[i], v), v, color=cluster_colors[i], lw=0.7, alpha=0.9, zorder=3)
    a1.plot(xr(lfe_start, reg['lfe']), reg['lfe'], color='black', lw=0.75, zorder=4)
    # IQRs
    for i in [2, 0, 1, 3, 4]:
        lo, hi = reg['lo'][i], reg['hi'][i]
        n = min(len(lo), len(hi))
        a2.fill_between(xr(iqr_start[i], lo[:n]), lo[:n], hi[:n], color=cluster_colors[i],
                        alpha=0.5, lw=0, zorder=3)
    # diagnostics
    blo, bhi = reg['band']
    n = min(len(blo), len(bhi))
    a3.fill_between(xr(band_start, blo[:n]), blo[:n], bhi[:n], color='#C8C8C8', alpha=0.6, lw=0, zorder=2)
    for (col, ls), start, vals in zip(product_styles, product_start, reg['prod']):
        a3.plot(xr(start, vals), vals, color=col, ls=ls, lw=0.55, zorder=3)
    # strip label
    y0, y1 = row_px[r]
    fig.text(396.5 / W, 1 - ((y0 + y1) / 2) / H, region_names[r], rotation=-90,
             ha='center', va='center', fontsize=3.4, color='#1A1A1A')

# column titles
col_titles = ['Clusters\n(medians)', 'Clusters\n(IQRs)', 'Diagnostics & Reanalyses\n(individual realizations + IQR)']
for c, t in enumerate(col_titles):
    x0, x1 = col_px[c]
    fig.text(((x0 + x1) / 2) / W, 1 - 2 / H, t, ha='center', va='top', fontsize=3.3,
             linespacing=1.15, color='#1A1A1A')

fig.text(0.6 / W, 1 - 143 / H, r'ET$_{\mathregular{mean}}$ (mm / growing season)', rotation=90,
         ha='left', va='center', fontsize=3.1, color='#1A1A1A')
fig.text(201.75 / W, 1 - 281 / H, 'Year', ha='center', va='center', fontsize=3.6, color='#1A1A1A')

# ---------------- legends ----------------
leg_fs = 2.9
common = dict(loc='upper left', frameon=False, fontsize=leg_fs, borderpad=0, borderaxespad=0,
              labelspacing=0.12)

h1 = [(Patch(facecolor=c, alpha=0.45, lw=0), Line2D([], [], color=c, lw=0.7)) for c in cluster_colors]
h1.append((Patch(facecolor='#AAAAAA', alpha=0.45, lw=0), Line2D([], [], color='black', lw=0.7)))
fig.legend(h1, cluster_labels + ['-- (LFE ALL)'], bbox_to_anchor=(70 / W, 1 - 282 / H),
           handlelength=1.5, handleheight=1.1, handletextpad=0.3, **common)
fig.text(22.7 / W, 1 - 297.5 / H, 'Cluster\nEnsemble medians', ha='left', va='center', fontsize=leg_fs + 0.2,
         linespacing=1.2, color='#1A1A1A')

h2 = [Patch(facecolor=c, alpha=0.6, lw=0) for c in cluster_colors] + [Patch(facecolor='#CFCFCF', lw=0)]
fig.legend(h2, cluster_labels + ['-- (Diagnostics + Reanalyses)'], bbox_to_anchor=(166.5 / W, 1 - 282 / H),
           handlelength=1.2, handleheight=1.1, handletextpad=0.3, **common)
fig.text(127.7 / W, 1 - 295.5 / H, 'Cluster\nEnsemble IQRs', ha='left', va='center', fontsize=leg_fs + 0.2,
         linespacing=1.2, color='#1A1A1A')

h3 = [Line2D([], [], color=col, ls=ls, lw=0.6) for col, ls in product_styles]
fig.legend(h3[:6], product_names[:6], bbox_to_anchor=(271 / W, 1 - 282 / H),
           handlelength=2.8, handleheight=1.1, handletextpad=0.6, **common)
fig.legend(h3[6:], product_names[6:], bbox_to_anchor=(325 / W, 1 - 282 / H),
           handlelength=2.8, handleheight=1.1, handletextpad=0.6, **common)
fig.text(235 / W, 1 - 295 / H, 'Diagnostics &\nReanalyses', ha='left', va='center', fontsize=leg_fs + 0.2,
         linespacing=1.2, color='#1A1A1A')

fig.savefig('out.png', dpi=100)
